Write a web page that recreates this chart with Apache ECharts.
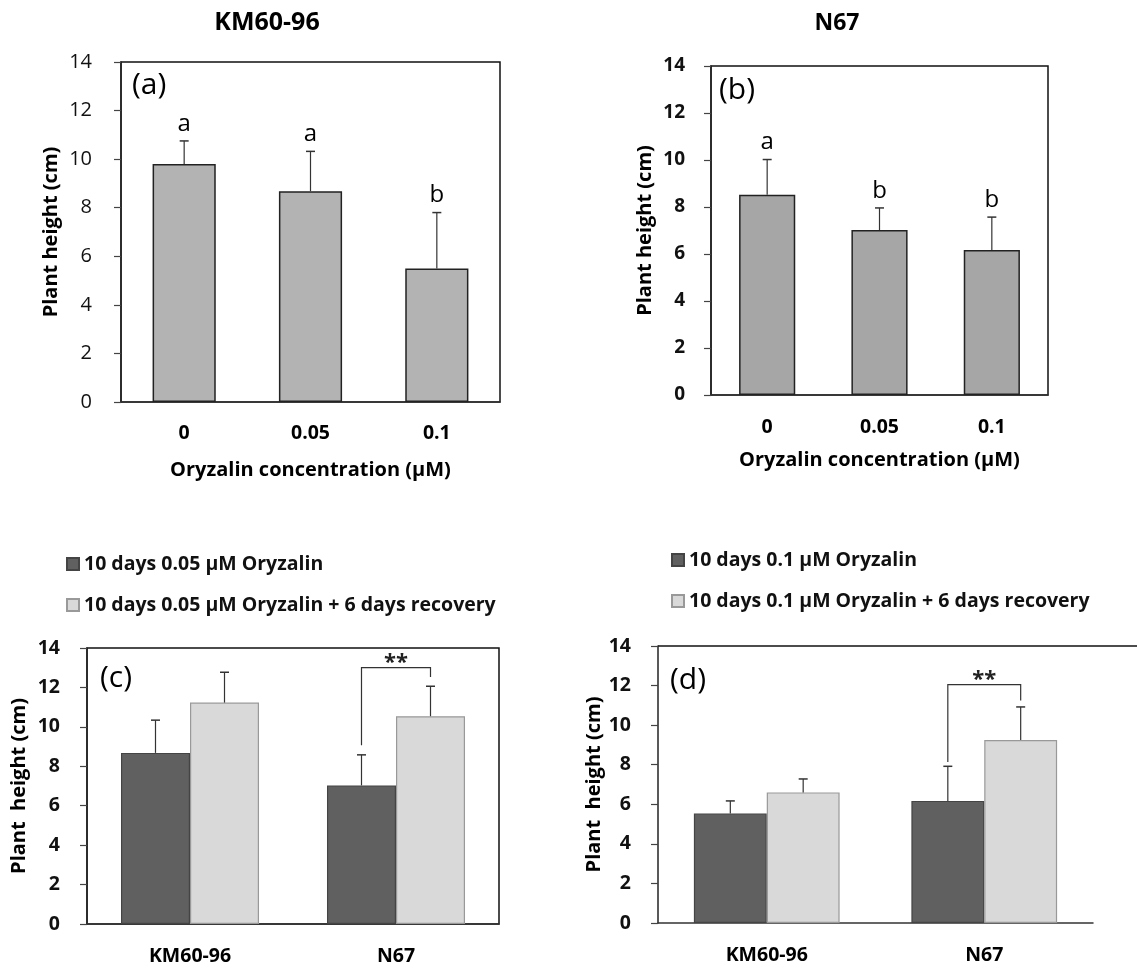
<!DOCTYPE html>
<html>
<head>
<meta charset="utf-8">
<script src="https://cdn.jsdelivr.net/npm/echarts@6/dist/echarts.min.js"></script>
<style>
  html, body { margin: 0; padding: 0; background: #fff; }
  #container { width: 1137px; height: 969px; }
</style>
</head>
<body>
<div id="container"></div>
<script>
let dom = document.getElementById("container");
let myChart = echarts.init(dom);
const fontName = 'Open Sans';

// panels (a) and (b): dose response
const doseCats = ['0', '0.05', '0.1'];
const kmHeight = [9.8, 8.68, 5.5];
const kmErr = [0.95, 1.64, 2.3];
const kmLetters = ['a', 'a', 'b'];
const n67Height = [8.52, 7.02, 6.17];
const n67Err = [1.5, 0.94, 1.4];
const n67Letters = ['a', 'b', 'b'];

// panels (c) and (d): treatment vs recovery
const lineCats = ['KM60-96', 'N67'];
const treat005 = [8.68, 7.03];
const treat005Err = [1.66, 1.55];
const rec005 = [11.23, 10.54];
const rec005Err = [1.54, 1.52];
const treat01 = [5.53, 6.17];
const treat01Err = [0.64, 1.75];
const rec01 = [6.6, 9.25];
const rec01Err = [0.68, 1.67];

// significance brackets: [category, left leg bottom, top, right leg bottom]
const bracket005 = [[1, 9.07, 13.0, 12.53]];
const bracket01 = [[1, 8.14, 12.05, 11.25]];

const names005 = ['10 days 0.05 µM Oryzalin', '10 days 0.05 µM Oryzalin + 6 days recovery'];
const names01 = ['10 days 0.1 µM Oryzalin', '10 days 0.1 µM Oryzalin + 6 days recovery'];

const darkFill = '#606060';
const lightFill = '#d9d9d9';
const pairBarWidth = 0.335;

function errData(vals, errs) {
    return vals.map(function (v, i) { return [i, v, errs[i]]; });
}

// error bar with optional letter above the cap
function errorRenderer(offset, letters) {
    return function (params, api) {
        let idx = api.value(0);
        let v = api.value(1);
        let e = api.value(2);
        let band = api.size([1, 0])[0];
        let base = api.coord([idx, v]);
        let top = api.coord([idx, v + e]);
        let x = base[0] + offset * band;
        let children = [
            {type: 'line', shape: {x1: x, y1: base[1], x2: x, y2: top[1]},
                style: {stroke: '#333', lineWidth: 1.2}},
            {type: 'line', shape: {x1: x - 4.5, y1: top[1], x2: x + 4.5, y2: top[1]},
                style: {stroke: '#333', lineWidth: 1.5}}
        ];
        if (letters) {
            children.push({
                type: 'text',
                style: {
                    x: x, y: top[1] - 5, text: letters[params.dataIndex],
                    font: '24px "' + fontName + '"', fill: '#000',
                    textAlign: 'center', textVerticalAlign: 'bottom'
                }
            });
        }
        return {type: 'group', children: children};
    };
}

function bracketRenderer(params, api) {
    let idx = api.value(0);
    let band = api.size([1, 0])[0];
    let half = band * pairBarWidth / 2;
    let c = api.coord([idx, api.value(2)]);
    let yl = api.coord([idx, api.value(1)])[1];
    let yr = api.coord([idx, api.value(3)])[1];
    let xl = c[0] - half, xr = c[0] + half;
    return {
        type: 'group',
        children: [
            {type: 'polyline', shape: {points: [[xl, yl], [xl, c[1]], [xr, c[1]], [xr, yr]]},
                style: {stroke: '#333', lineWidth: 1.2, fill: null}},
            {type: 'text', style: {x: c[0], y: c[1] - 5, text: '**',
                    font: 'bold 22px "' + fontName + '"', fill: '#222',
                    textAlign: 'center', textVerticalAlign: 'middle'}}
        ]
    };
}

function yAxisFor(gridIndex, bold, size, margin, gap, name) {
    return {
        gridIndex: gridIndex, type: 'value', min: 0, max: 14, interval: 2,
        name: name, nameLocation: 'middle', nameGap: gap,
        nameTextStyle: {fontFamily: fontName, fontWeight: 'bold', fontSize: 20, color: '#000'},
        axisLine: {show: true, lineStyle: {color: '#222', width: 1.5}},
        axisTick: {show: true, length: 7, lineStyle: {color: '#444', width: 1.2}},
        splitLine: {show: false},
        axisLabel: {fontFamily: fontName, fontWeight: bold ? 'bold' : 'normal', fontSize: size,
            color: '#111', margin: margin}
    };
}

function xAxisFor(gridIndex, cats, size, margin, name, gap) {
    return {
        gridIndex: gridIndex, type: 'category', data: cats,
        name: name, nameLocation: 'middle', nameGap: gap,
        nameTextStyle: {fontFamily: fontName, fontWeight: 'bold', fontSize: 20, color: '#000'},
        axisLine: {show: true, lineStyle: {color: '#333', width: 1.5}},
        axisTick: {show: false},
        axisLabel: {fontFamily: fontName, fontWeight: 'bold', fontSize: size, color: '#000', margin: margin}
    };
}

function doseBar(i, vals, fill) {
    return {
        type: 'bar', xAxisIndex: i, yAxisIndex: i, data: vals, barWidth: '50%',
        itemStyle: {color: fill, borderColor: '#222', borderWidth: 1.5}
    };
}

function pairBar(i, name, vals, fill, border) {
    return {
        type: 'bar', name: name, xAxisIndex: i, yAxisIndex: i, data: vals,
        barWidth: (pairBarWidth * 100) + '%', barGap: '0%',
        itemStyle: {color: fill, borderColor: border, borderWidth: 1.2}
    };
}

function errSeries(i, vals, errs, offset, letters) {
    return {
        type: 'custom', xAxisIndex: i, yAxisIndex: i, z: 5,
        renderItem: errorRenderer(offset, letters),
        data: errData(vals, errs)
    };
}

function legendFor(left, top, names) {
    return {
        left: left, top: top, orient: 'vertical', icon: 'rect',
        itemWidth: 12, itemHeight: 12, itemGap: 21,
        data: names,
        textStyle: {fontFamily: fontName, fontWeight: 'bold', fontSize: 19.5, lineHeight: 20, color: '#111'}
    };
}

function panelText(x, y, text, font) {
    return {
        type: 'text', x: x, y: y,
        style: {text: text, font: font, fill: '#000', textVerticalAlign: 'middle', textAlign: 'left'}
    };
}

let option = {
    animation: false,
    backgroundColor: '#fff',
    grid: [
        {left: 121, top: 62, width: 379, height: 340, show: true, borderColor: '#111', borderWidth: 1.5},
        {left: 711, top: 66, width: 337, height: 329, show: true, borderColor: '#111', borderWidth: 1.5},
        {left: 87, top: 648, width: 412, height: 276, show: true, borderColor: '#111', borderWidth: 1.5},
        {left: 658, top: 646, width: 435, height: 277}
    ],
    legend: [
        legendFor(61, 549, names005),
        legendFor(666, 545, names01)
    ],
    xAxis: [
        xAxisFor(0, doseCats, 19.5, 21, 'Oryzalin concentration (µM)', 58),
        xAxisFor(1, doseCats, 19.5, 22, 'Oryzalin concentration (µM)', 55),
        xAxisFor(2, lineCats, 19.5, 22, '', 0),
        xAxisFor(3, lineCats, 19.5, 22, '', 0)
    ],
    yAxis: [
        yAxisFor(0, false, 20, 29, 60, 'Plant height (cm)'),
        yAxisFor(1, true, 19, 26, 56, 'Plant height (cm)'),
        yAxisFor(2, true, 19.5, 27, 58, 'Plant  height (cm)'),
        yAxisFor(3, true, 19.5, 27, 54, 'Plant  height (cm)')
    ],
    graphic: [
        {type: 'text', x: 267, y: 23, style: {text: 'KM60-96', font: 'bold 25px "' + fontName + '"',
                fill: '#000', textAlign: 'center', textVerticalAlign: 'middle'}},
        {type: 'text', x: 837, y: 23, style: {text: 'N67', font: 'bold 23px "' + fontName + '"',
                fill: '#000', textAlign: 'center', textVerticalAlign: 'middle'}},
        panelText(132, 85, '(a)', '30px "' + fontName + '"'),
        panelText(719, 90, '(b)', '30px "' + fontName + '"'),
        panelText(100, 678, '(c)', '30px "' + fontName + '"'),
        panelText(670, 680, '(d)', '30px "' + fontName + '"'),
        // top frame line of panel (d), which runs off the right edge
        {type: 'line', shape: {x1: 658, y1: 646, x2: 1137, y2: 646},
            style: {stroke: '#111', lineWidth: 1.5}}
    ],
    series: [
        doseBar(0, kmHeight, '#b3b3b3'),
        errSeries(0, kmHeight, kmErr, 0, kmLetters),
        doseBar(1, n67Height, '#a6a6a6'),
        errSeries(1, n67Height, n67Err, 0, n67Letters),

        pairBar(2, names005[0], treat005, darkFill, '#444'),
        pairBar(2, names005[1], rec005, lightFill, '#999'),
        errSeries(2, treat005, treat005Err, -pairBarWidth / 2),
        errSeries(2, rec005, rec005Err, pairBarWidth / 2),
        {type: 'custom', xAxisIndex: 2, yAxisIndex: 2, z: 5, renderItem: bracketRenderer, data: bracket005},

        pairBar(3, names01[0], treat01, darkFill, '#444'),
        pairBar(3, names01[1], rec01, lightFill, '#999'),
        errSeries(3, treat01, treat01Err, -pairBarWidth / 2),
        errSeries(3, rec01, rec01Err, pairBarWidth / 2),
        {type: 'custom', xAxisIndex: 3, yAxisIndex: 3, z: 5, renderItem: bracketRenderer, data: bracket01}
    ]
};

if (option && typeof option === "object") {
    myChart.setOption(option, true);
}
</script>
</body>
</html>
